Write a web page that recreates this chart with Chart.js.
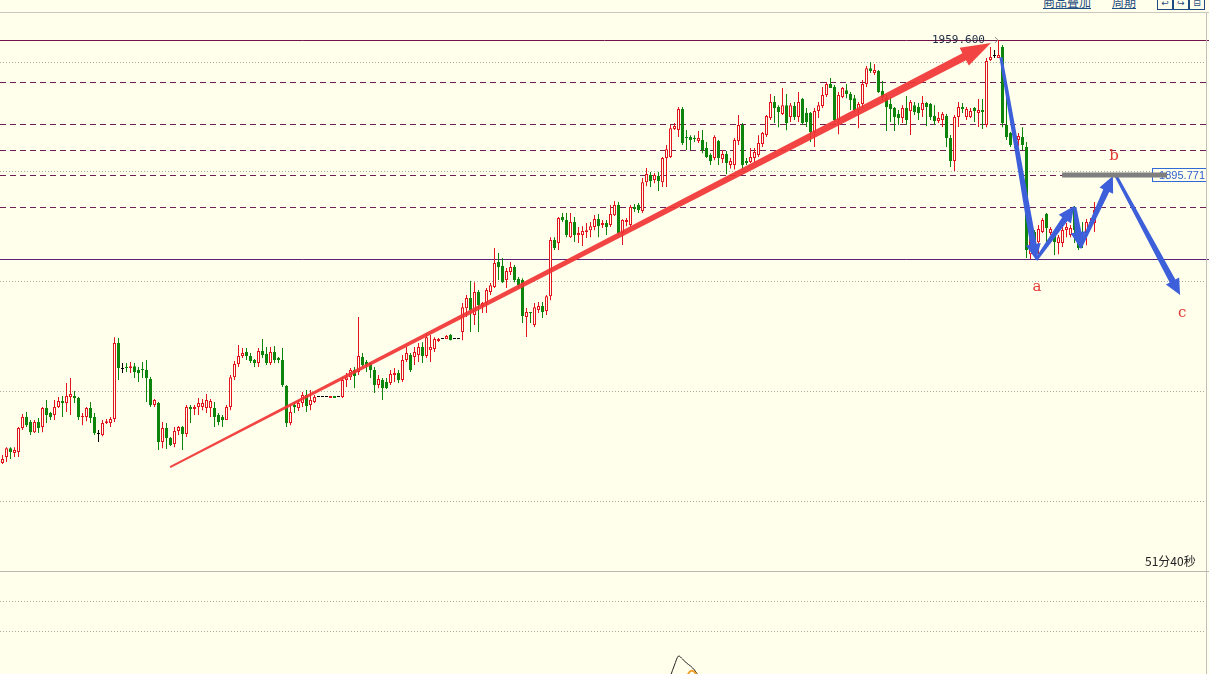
<!DOCTYPE html>
<html lang="zh">
<head>
<meta charset="utf-8">
<title>K线</title>
<script src="https://cdn.jsdelivr.net/npm/chart.js@4.4.1/dist/chart.umd.min.js"></script>
<style>
  html, body { margin: 0; padding: 0; background: #ffffec; }
  body { width: 1209px; height: 674px; overflow: hidden; position: relative; font-family: "Noto Sans CJK SC", sans-serif; }
  #bar { position: absolute; left: 0; top: 0; width: 1209px; height: 12px; border-bottom: 1px solid #c8c8c0; overflow: hidden; }
  #bar a { position: absolute; top: -4px; font-size: 12px; line-height: 12px; color: #1e4b80; text-decoration: underline; }
  #bar .ico { position: absolute; top: -4px; width: 14px; height: 12px; border: 1px solid #1e4b80; font: 9px/12px "DejaVu Sans"; color: #1e4b80; text-align: center; }
  #main { position: absolute; left: 0; top: 13px; }
  #sep { position: absolute; left: 0; top: 571px; width: 1209px; height: 1px; background: #b8b8b0; }
  #sub { position: absolute; left: 0; top: 572px; }
  #rb { position: absolute; left: 1206px; top: 13px; width: 1px; height: 661px; background: #c0c0c0; }
  #timer { position: absolute; left: 1145px; top: 554px; font-size: 12px; line-height: 14px; color: #222; }
</style>
</head>
<body>
<div id="bar">
  <a style="left:1043px">商品叠加</a>
  <a style="left:1112px">周期</a>
  <span class="ico" style="left:1157px">&#8617;</span>
  <span class="ico" style="left:1173px">&#8618;</span>
  <span class="ico" style="left:1189px">&#8863;</span>
</div>
<canvas id="main" width="1209" height="558"></canvas>
<div id="sep"></div>
<canvas id="sub" width="1209" height="102"></canvas>
<div id="rb"></div>
<div id="timer">51分40秒</div>
<script>
// K线数据 (index 0..273)
const opens = [
  1759.6, 1762.4, 1766.6, 1764.3, 1764.8, 1776.1, 1781.3, 1779.0, 1774.2, 1779.0,
  1776.6, 1785.6, 1783.2, 1782.3, 1786.1, 1788.9, 1788.0, 1790.8, 1791.3, 1790.3,
  1781.3, 1781.3, 1785.6, 1781.3, 1773.3, 1772.8, 1778.5, 1778.5, 1780.4, 1816.3,
  1804.0, 1805.0, 1804.5, 1805.4, 1803.6, 1804.0, 1803.6, 1799.3, 1787.0, 1788.0,
  1769.5, 1776.1, 1771.4, 1768.6, 1774.7, 1776.6, 1773.3, 1786.1, 1785.1, 1786.1,
  1786.1, 1785.6, 1785.6, 1785.6, 1782.3, 1781.3, 1779.9, 1786.1, 1800.2, 1806.4,
  1810.2, 1812.1, 1810.2, 1808.3, 1806.9, 1812.5, 1811.1, 1806.9, 1812.1, 1809.2,
  1808.3, 1796.0, 1778.5, 1787.0, 1785.6, 1788.0, 1791.8, 1787.0, 1788.4, 1790.8,
  1790.8, 1790.8, 1790.3, 1791.3, 1790.8, 1790.8, 1798.8, 1800.2, 1803.6, 1802.6,
  1809.7, 1807.3, 1806.9, 1803.6, 1796.5, 1798.8, 1797.9, 1797.4, 1801.2, 1802.2,
  1798.8, 1808.3, 1810.7, 1809.7, 1810.7, 1814.4, 1810.2, 1813.0, 1813.5, 1817.3,
  1818.2, 1818.2, 1820.1, 1818.2, 1818.2, 1821.5, 1832.8, 1837.6, 1829.6, 1840.4,
  1833.8, 1835.2, 1840.4, 1842.8, 1854.6, 1852.7, 1846.1, 1849.9, 1852.3, 1846.6,
  1846.1, 1828.6, 1831.0, 1824.8, 1831.9, 1833.8, 1831.5, 1838.5, 1865.0, 1863.6,
  1875.9, 1874.5, 1866.4, 1873.5, 1867.4, 1867.4, 1868.8, 1869.7, 1871.2, 1875.0,
  1872.1, 1873.1, 1872.1, 1876.8, 1881.6, 1868.3, 1873.5, 1872.1, 1880.6, 1881.6,
  1878.7, 1892.4, 1895.8, 1893.4, 1895.3, 1892.4, 1903.8, 1904.3, 1917.5, 1917.0,
  1927.0, 1913.7, 1913.7, 1913.3, 1911.8, 1912.3, 1908.5, 1905.2, 1903.8, 1911.8,
  1903.3, 1905.7, 1900.5, 1900.5, 1911.8, 1919.4, 1902.4, 1901.9, 1903.8, 1905.2,
  1910.4, 1914.7, 1922.7, 1930.3, 1927.9, 1924.6, 1928.8, 1923.2, 1928.4, 1923.2,
  1931.7, 1925.1, 1925.1, 1916.1, 1926.0, 1928.4, 1933.6, 1938.8, 1937.4, 1921.8,
  1932.6, 1935.9, 1934.1, 1932.1, 1926.5, 1929.3, 1938.8, 1946.3, 1944.0, 1944.9,
  1935.5, 1932.1, 1929.3, 1927.4, 1924.6, 1922.7, 1927.4, 1926.0, 1928.8, 1927.9,
  1926.5, 1929.8, 1929.3, 1923.7, 1921.3, 1921.8, 1923.7, 1913.3, 1902.4, 1923.2,
  1927.9, 1923.2, 1923.2, 1927.4, 1925.1, 1926.5, 1919.4, 1950.1, 1952.0, 1951.1,
  1956.3, 1919.4, 1915.6, 1913.7, 1912.3, 1913.7, 1909.0, 1858.3, 1868.8, 1864.0,
  1868.8, 1877.3, 1868.3, 1868.3, 1863.6, 1863.6, 1869.8, 1867.4, 1880.1, 1869.8,
  1866.4, 1868.3, 1872.1, 1873.1
];
const highs = [
  1763.4, 1767.1, 1767.1, 1767.1, 1776.6, 1782.8, 1783.7, 1779.9, 1779.9, 1780.9,
  1786.1, 1789.4, 1783.7, 1789.4, 1790.8, 1791.3, 1797.4, 1799.8, 1793.6, 1790.8,
  1783.2, 1786.1, 1788.4, 1783.2, 1775.2, 1779.9, 1780.4, 1781.3, 1819.1, 1818.7,
  1806.9, 1806.9, 1807.3, 1806.9, 1805.0, 1807.3, 1808.3, 1800.3, 1789.9, 1788.4,
  1779.0, 1778.5, 1771.9, 1776.6, 1777.1, 1777.1, 1787.0, 1787.0, 1787.0, 1790.3,
  1789.9, 1792.2, 1789.9, 1788.4, 1783.2, 1782.3, 1787.0, 1801.2, 1807.8, 1815.4,
  1814.0, 1814.0, 1811.6, 1808.8, 1814.0, 1818.2, 1814.4, 1814.4, 1814.9, 1809.7,
  1814.0, 1796.5, 1787.0, 1788.4, 1789.4, 1793.2, 1794.1, 1794.1, 1791.8, 1790.8,
  1790.8, 1790.8, 1791.3, 1791.3, 1790.8, 1800.2, 1802.2, 1804.5, 1805.0, 1828.6,
  1811.6, 1808.3, 1807.3, 1805.0, 1801.2, 1799.8, 1799.8, 1803.6, 1804.5, 1803.6,
  1810.7, 1814.4, 1811.6, 1814.4, 1816.3, 1816.7, 1821.1, 1820.1, 1819.1, 1818.7,
  1818.2, 1820.1, 1820.6, 1818.2, 1818.2, 1835.2, 1839.0, 1845.6, 1845.1, 1841.4,
  1835.7, 1842.3, 1844.7, 1861.2, 1858.9, 1856.5, 1851.8, 1854.6, 1853.2, 1847.5,
  1847.0, 1832.9, 1831.0, 1835.2, 1835.7, 1835.7, 1839.0, 1866.4, 1866.4, 1875.9,
  1877.8, 1877.8, 1877.8, 1875.9, 1871.2, 1871.6, 1873.1, 1873.5, 1876.9, 1877.3,
  1874.5, 1874.5, 1881.6, 1883.5, 1883.0, 1874.9, 1875.4, 1881.6, 1882.1, 1882.5,
  1894.3, 1899.1, 1897.2, 1896.7, 1897.2, 1904.3, 1909.9, 1919.4, 1920.4, 1927.9,
  1927.9, 1917.0, 1914.6, 1914.6, 1916.6, 1917.0, 1911.4, 1906.1, 1914.6, 1912.3,
  1907.6, 1907.1, 1903.8, 1913.3, 1924.1, 1920.4, 1903.8, 1908.5, 1908.5, 1914.6,
  1916.1, 1924.1, 1934.1, 1933.1, 1928.8, 1936.9, 1934.1, 1929.8, 1930.3, 1935.0,
  1932.2, 1927.4, 1925.6, 1927.4, 1930.3, 1937.4, 1939.7, 1941.6, 1938.3, 1935.0,
  1937.4, 1938.8, 1935.0, 1933.6, 1930.3, 1940.7, 1947.3, 1949.2, 1948.2, 1945.4,
  1940.2, 1933.6, 1932.6, 1927.9, 1926.5, 1928.8, 1933.1, 1931.2, 1930.3, 1929.8,
  1933.1, 1930.3, 1929.8, 1928.8, 1925.6, 1925.6, 1924.6, 1914.7, 1924.1, 1930.3,
  1929.8, 1927.9, 1927.4, 1927.9, 1931.7, 1931.7, 1951.1, 1956.3, 1954.9, 1959.6,
  1957.2, 1932.6, 1916.1, 1918.0, 1915.6, 1918.4, 1911.4, 1871.6, 1869.8, 1872.1,
  1875.4, 1877.8, 1871.2, 1868.8, 1867.4, 1871.2, 1873.1, 1872.1, 1881.1, 1871.2,
  1873.5, 1875.0, 1875.4, 1883.0
];
const lows = [
  1759.1, 1760.1, 1761.5, 1762.4, 1762.4, 1775.2, 1776.6, 1772.8, 1773.8, 1773.8,
  1774.2, 1778.5, 1779.9, 1779.9, 1785.6, 1781.3, 1783.7, 1782.3, 1788.0, 1779.9,
  1777.5, 1779.4, 1778.5, 1772.8, 1769.5, 1772.3, 1778.0, 1776.6, 1779.0, 1798.8,
  1802.2, 1802.6, 1802.2, 1799.8, 1797.9, 1799.8, 1788.4, 1786.1, 1786.1, 1765.7,
  1766.6, 1766.2, 1767.6, 1767.1, 1772.8, 1765.7, 1771.9, 1778.5, 1782.3, 1782.3,
  1784.6, 1783.2, 1781.3, 1776.6, 1777.5, 1776.6, 1779.9, 1784.6, 1798.8, 1805.0,
  1809.2, 1808.3, 1806.9, 1805.0, 1805.0, 1809.2, 1805.9, 1805.9, 1806.9, 1806.9,
  1795.5, 1776.6, 1777.5, 1783.2, 1784.2, 1786.1, 1783.7, 1784.6, 1788.0, 1790.8,
  1790.8, 1790.8, 1790.3, 1790.3, 1790.8, 1790.3, 1795.5, 1798.8, 1795.0, 1801.2,
  1805.0, 1802.6, 1799.8, 1792.7, 1795.0, 1789.4, 1794.6, 1796.5, 1797.9, 1797.4,
  1797.9, 1807.3, 1802.6, 1805.9, 1807.3, 1806.9, 1809.2, 1807.3, 1812.1, 1816.8,
  1818.2, 1818.2, 1817.7, 1818.2, 1818.2, 1817.7, 1828.6, 1821.5, 1824.8, 1821.5,
  1830.5, 1830.5, 1839.0, 1842.3, 1846.1, 1844.7, 1842.3, 1848.5, 1845.1, 1842.3,
  1825.8, 1819.2, 1825.8, 1823.9, 1830.5, 1828.2, 1829.6, 1836.6, 1860.3, 1860.3,
  1873.5, 1866.4, 1866.0, 1864.1, 1863.6, 1862.2, 1866.0, 1866.4, 1869.7, 1866.4,
  1870.7, 1867.4, 1871.2, 1876.4, 1867.4, 1862.7, 1871.6, 1871.2, 1878.3, 1877.8,
  1877.8, 1890.5, 1890.1, 1891.9, 1888.2, 1890.1, 1890.1, 1903.8, 1917.0, 1913.7,
  1909.9, 1907.6, 1907.6, 1911.4, 1910.9, 1906.1, 1903.8, 1900.5, 1902.8, 1900.5,
  1901.4, 1896.2, 1898.9, 1898.4, 1909.9, 1898.4, 1900.5, 1901.4, 1901.9, 1904.3,
  1909.0, 1913.7, 1921.8, 1920.4, 1918.4, 1924.1, 1916.9, 1920.8, 1921.8, 1920.8,
  1919.4, 1918.5, 1911.4, 1909.0, 1922.7, 1927.4, 1932.6, 1936.9, 1920.8, 1915.1,
  1932.1, 1932.1, 1926.5, 1925.5, 1917.9, 1927.4, 1937.4, 1944.0, 1943.0, 1934.5,
  1931.2, 1916.6, 1920.8, 1916.6, 1919.4, 1920.4, 1919.4, 1914.7, 1924.1, 1921.8,
  1923.2, 1918.9, 1921.8, 1919.4, 1920.4, 1918.5, 1909.0, 1899.6, 1897.7, 1918.5,
  1925.1, 1921.8, 1922.7, 1920.8, 1918.5, 1917.5, 1918.4, 1949.7, 1951.1, 1951.1,
  1918.4, 1912.3, 1909.0, 1908.5, 1909.4, 1907.6, 1856.5, 1856.0, 1858.3, 1858.3,
  1868.3, 1862.6, 1867.4, 1857.9, 1858.3, 1861.7, 1866.4, 1866.4, 1863.6, 1860.3,
  1861.2, 1862.6, 1870.7, 1868.8
];
const closes = [
  1761.5, 1766.6, 1764.8, 1765.7, 1776.1, 1781.3, 1777.5, 1774.2, 1779.0, 1776.1,
  1785.6, 1782.3, 1781.3, 1786.1, 1788.9, 1788.0, 1791.3, 1792.2, 1790.3, 1781.3,
  1781.8, 1785.6, 1780.9, 1773.8, 1773.3, 1778.5, 1779.4, 1780.4, 1816.3, 1804.5,
  1804.0, 1804.5, 1805.4, 1802.6, 1802.2, 1803.6, 1799.8, 1787.0, 1789.4, 1769.5,
  1776.1, 1771.4, 1768.1, 1774.7, 1776.6, 1773.3, 1786.1, 1785.1, 1786.1, 1788.0,
  1788.0, 1789.4, 1788.9, 1781.3, 1779.0, 1779.9, 1786.1, 1800.2, 1806.4, 1810.2,
  1811.6, 1810.2, 1807.8, 1806.9, 1812.5, 1810.7, 1806.9, 1812.1, 1808.3, 1808.3,
  1796.5, 1778.5, 1783.7, 1786.1, 1788.0, 1791.8, 1786.5, 1789.4, 1790.8, 1790.8,
  1790.8, 1790.8, 1791.3, 1790.3, 1790.8, 1798.8, 1800.2, 1803.6, 1800.7, 1810.2,
  1805.9, 1805.9, 1803.6, 1796.5, 1799.3, 1795.0, 1795.0, 1801.7, 1802.2, 1798.8,
  1808.3, 1811.6, 1803.6, 1812.1, 1814.4, 1810.2, 1819.1, 1814.4, 1818.2, 1818.2,
  1818.2, 1819.6, 1817.7, 1818.2, 1818.2, 1833.3, 1837.6, 1831.9, 1840.4, 1834.3,
  1835.2, 1841.4, 1843.7, 1854.2, 1852.3, 1845.1, 1850.4, 1852.3, 1846.1, 1843.7,
  1829.1, 1831.0, 1830.5, 1833.3, 1833.8, 1831.0, 1838.5, 1865.0, 1861.2, 1875.4,
  1874.5, 1867.4, 1873.5, 1867.4, 1868.3, 1869.3, 1869.7, 1871.6, 1875.0, 1871.6,
  1873.1, 1871.2, 1877.3, 1881.6, 1868.3, 1874.5, 1874.5, 1880.6, 1879.7, 1879.2,
  1892.4, 1896.2, 1892.9, 1895.8, 1892.9, 1903.8, 1908.0, 1917.9, 1918.9, 1927.0,
  1910.9, 1913.3, 1912.3, 1912.8, 1913.3, 1907.6, 1904.3, 1902.4, 1913.7, 1903.8,
  1905.7, 1901.4, 1902.4, 1912.3, 1919.4, 1900.5, 1901.4, 1904.3, 1906.6, 1910.9,
  1915.6, 1923.7, 1930.3, 1927.4, 1925.6, 1928.8, 1920.4, 1928.8, 1923.2, 1930.3,
  1920.4, 1920.8, 1916.1, 1926.0, 1928.8, 1933.6, 1938.8, 1936.9, 1921.8, 1933.6,
  1936.9, 1934.1, 1931.2, 1926.5, 1929.3, 1938.8, 1946.3, 1944.9, 1945.4, 1935.0,
  1932.6, 1927.9, 1927.0, 1923.2, 1922.7, 1927.4, 1921.8, 1930.3, 1925.5, 1925.1,
  1929.8, 1927.9, 1923.2, 1921.3, 1922.7, 1924.6, 1913.3, 1902.4, 1923.2, 1927.9,
  1927.0, 1927.0, 1926.0, 1926.0, 1926.5, 1925.6, 1949.7, 1951.6, 1952.0, 1952.5,
  1920.3, 1913.7, 1910.0, 1912.3, 1914.2, 1910.0, 1860.3, 1868.8, 1862.6, 1870.2,
  1874.5, 1870.7, 1870.2, 1864.1, 1866.4, 1869.8, 1871.2, 1870.7, 1869.8, 1861.2,
  1865.5, 1873.5, 1873.5, 1879.2
];

// 水平线
const gridPrices = [1949.3, 1897.5, 1845.6, 1793.7, 1741.8];
const fibPrices = [1939.8, 1920.1, 1907.8, 1895.6, 1880.5];
const highLine = 1959.6;
const lowLine = 1856.1;

// 画线
const trendX = [41.9, 247.1];
const trendY = [1757.7, 1958.2];
const waveX = [249.6, 258.4, 258.4, 267.9, 268.1, 269.4, 269.4, 277.6, 278.4, 294.4];
const waveY = [1951.5, 1855.6, 1855.6, 1881.1, 1880.6, 1861.2, 1861.2, 1895.3, 1895.3, 1839.0];
const waveLetters = ['a', 'b', 'c'];
const letterX = [258.6, 277.9, 294.9];
const letterY = [1842.8, 1904.8, 1830.5];
const markPrice = 1895.771;
const markFrom = 264.9;
const markTo = 291.1;
const topLabelX = 245.6;

// 副图
const subX = [167, 168, 169, 170, 171, 172, 173, 174];
const subLine = [-2, 9, 18, 15, 11, 8, 4, -2];
const subOrange = [null, null, null, null, -3, 3, 2, -4];
const subLevels = [73, 43];

const X_MIN = -0.625, X_MAX = 301.625;
const Y_MIN = 1708.54, Y_MAX = 1972.37;

const RED = '#e2141f', GREEN = '#0d850d', BG = '#ffffec';

function candleColor(i) {
  if (closes[i] > opens[i]) return RED;
  if (closes[i] < opens[i]) return GREEN;
  return '#000000';
}

function arrow(ctx, x0, y0, x1, y1, w0, w1, hl, hw, color) {
  const ang = Math.atan2(y1 - y0, x1 - x0);
  const len = Math.hypot(x1 - x0, y1 - y0);
  const l = len - hl;
  ctx.save();
  ctx.translate(x0, y0);
  ctx.rotate(ang);
  ctx.beginPath();
  ctx.moveTo(0, -w0 / 2);
  ctx.lineTo(l, -w1 / 2);
  ctx.lineTo(l, -hw / 2);
  ctx.lineTo(len, 0);
  ctx.lineTo(l, hw / 2);
  ctx.lineTo(l, w1 / 2);
  ctx.lineTo(0, w0 / 2);
  ctx.closePath();
  ctx.fillStyle = color;
  ctx.fill();
  ctx.restore();
}

function hline(ctx, area, y, color, dash) {
  const py = Math.round(y) + 0.5;
  ctx.save();
  ctx.strokeStyle = color;
  ctx.lineWidth = 1;
  ctx.setLineDash(dash);
  ctx.beginPath();
  ctx.moveTo(area.left, py);
  ctx.lineTo(area.right, py);
  ctx.stroke();
  ctx.restore();
}

const linesPlugin = {
  id: 'levels',
  beforeDatasetsDraw(chart) {
    const {ctx, chartArea, scales: {y}} = chart;
    gridPrices.forEach(v => hline(ctx, chartArea, y.getPixelForValue(v), '#a8a8a0', [1, 2]));
    fibPrices.forEach(v => hline(ctx, chartArea, y.getPixelForValue(v), '#6b1f55', [6, 4]));
    hline(ctx, chartArea, y.getPixelForValue(highLine), '#72124a', []);
    hline(ctx, chartArea, y.getPixelForValue(lowLine), '#5a2378', []);
  },
  afterDatasetsDraw(chart) {
    const {ctx, scales: {x, y}} = chart;
    // 上涨趋势线
    arrow(ctx, x.getPixelForValue(trendX[0]), y.getPixelForValue(trendY[0]),
      x.getPixelForValue(trendX[1]), y.getPixelForValue(trendY[1]), 2, 8, 30, 20, 'rgba(240,52,52,0.92)');
    // 波浪
    for (let k = 0; k < waveX.length; k += 2) {
      arrow(ctx, x.getPixelForValue(waveX[k]), y.getPixelForValue(waveY[k]),
        x.getPixelForValue(waveX[k + 1]), y.getPixelForValue(waveY[k + 1]), 3, 6.5, 16, 15, '#3d5fd9');
    }
    // 标价框
    const my = y.getPixelForValue(markPrice);
    const bx = 1152.5, by = Math.round(my) - 6.5;
    ctx.save();
    ctx.fillStyle = BG;
    ctx.fillRect(bx, by, 54, 13);
    ctx.strokeStyle = '#2f6ad6';
    ctx.lineWidth = 1;
    ctx.strokeRect(bx, by, 54, 13);
    ctx.fillStyle = '#2f62cf';
    ctx.font = '11px "Liberation Sans", Arial, sans-serif';
    ctx.textBaseline = 'middle';
    ctx.textAlign = 'right';
    ctx.fillText(markPrice.toFixed(3), 1205, Math.round(my) + 0.5);
    // 灰色横条
    ctx.fillStyle = '#7f7f7f';
    const x0 = x.getPixelForValue(markFrom), x1 = x.getPixelForValue(markTo);
    ctx.fillRect(x0, Math.round(my) - 2.5, x1 - x0, 5);
    // 高点标注
    const hy = y.getPixelForValue(highLine);
    ctx.fillStyle = '#1d2a40';
    ctx.font = '11px "DejaVu Sans Mono", monospace';
    ctx.textAlign = 'right';
    ctx.fillText(highLine.toFixed(3), x.getPixelForValue(topLabelX), hy + 0.5);
    ctx.strokeStyle = '#8c8c8c';
    ctx.beginPath();
    const tx = x.getPixelForValue(topLabelX) + 10;
    ctx.moveTo(tx, hy - 3); ctx.lineTo(tx + 3, hy); ctx.lineTo(tx, hy + 3);
    ctx.stroke();
    // a b c
    ctx.fillStyle = '#e23a35';
    ctx.font = '15px "DejaVu Serif", serif';
    ctx.textAlign = 'center';
    waveLetters.forEach((t, k) => ctx.fillText(t, x.getPixelForValue(letterX[k]), y.getPixelForValue(letterY[k])));
    ctx.restore();
  }
};

const idx = opens.map((_, i) => i);

new Chart(document.getElementById('main'), {
  type: 'bar',
  data: {
    datasets: [
      {
        label: 'wick',
        data: idx.map(i => ({x: i, y: [lows[i], highs[i]]})),
        backgroundColor: ctx => candleColor(ctx.dataIndex),
        borderWidth: 0,
        barThickness: 1,
        grouped: false,
        inflateAmount: 0,
        minBarLength: 1,
        order: 2
      },
      {
        label: 'body',
        data: idx.map(i => ({x: i, y: [opens[i], closes[i]]})),
        backgroundColor: ctx => {
          const i = ctx.dataIndex;
          return closes[i] > opens[i] ? BG : candleColor(i);
        },
        borderColor: ctx => candleColor(ctx.dataIndex),
        borderWidth: 1,
        borderSkipped: false,
        barThickness: 3,
        grouped: false,
        inflateAmount: 0,
        minBarLength: 1,
        order: 1
      }
    ]
  },
  options: {
    responsive: false,
    animation: false,
    layout: {padding: 0},
    plugins: {legend: {display: false}, tooltip: {enabled: false}},
    scales: {
      x: {type: 'linear', min: X_MIN, max: X_MAX, offset: false, display: false},
      y: {type: 'linear', min: Y_MIN, max: Y_MAX, display: false}
    }
  },
  plugins: [linesPlugin]
});

const subPlugin = {
  id: 'subLevels',
  beforeDatasetsDraw(chart) {
    const {ctx, chartArea, scales: {y}} = chart;
    subLevels.forEach(v => hline(ctx, chartArea, y.getPixelForValue(v), '#a8a8a0', [1, 2]));
  }
};

new Chart(document.getElementById('sub'), {
  type: 'line',
  data: {
    datasets: [
      {
        data: subX.map((v, k) => ({x: v, y: subOrange[k]})),
        borderColor: '#f0a030',
        borderWidth: 2,
        pointRadius: 0,
        tension: 0.3,
        spanGaps: false
      },
      {
        data: subX.map((v, k) => ({x: v, y: subLine[k]})),
        borderColor: '#202020',
        borderWidth: 1,
        pointRadius: 0,
        tension: 0.3
      }
    ]
  },
  options: {
    responsive: false,
    animation: false,
    layout: {padding: 0},
    plugins: {legend: {display: false}, tooltip: {enabled: false}},
    scales: {
      x: {type: 'linear', min: X_MIN, max: X_MAX, display: false},
      y: {type: 'linear', min: 0, max: 102, display: false}
    }
  },
  plugins: [subPlugin]
});
</script>
</body>
</html>
